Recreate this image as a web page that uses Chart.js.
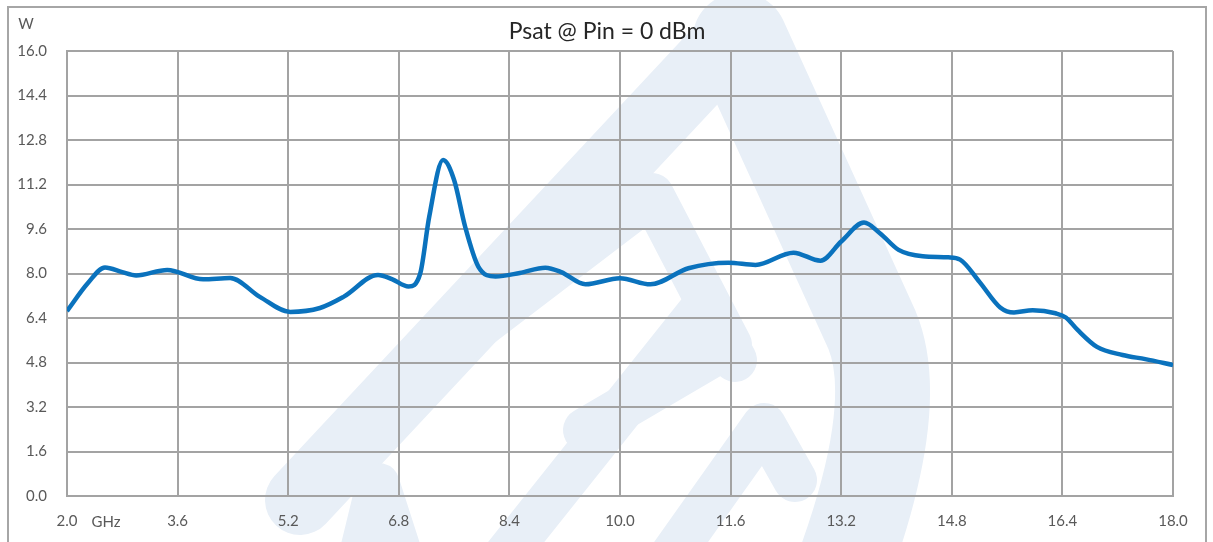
<!DOCTYPE html>
<html>
<head>
<meta charset="utf-8">
<script src="https://cdn.jsdelivr.net/npm/chart.js@4.4.1/dist/chart.umd.min.js"></script>
<style>
  html, body { margin: 0; padding: 0; background: #ffffff; }
  #wrap { position: relative; width: 1213px; height: 542px; }
  canvas { display: block; }
</style>
</head>
<body>
<div id="wrap"><canvas id="c" width="1213" height="542"></canvas></div>
<script>
// ---- data ----
const freqGHz = [2.0, 2.3, 2.55, 2.8, 3.0, 3.45, 3.97, 4.36, 4.79, 5.23, 5.66, 6.0, 6.5, 6.7, 6.94, 7.11, 7.24, 7.44, 7.6, 7.76, 7.95, 8.2, 8.55, 8.92, 9.15, 9.5, 10.0, 10.44, 10.99, 11.57, 11.96, 12.51, 12.9, 13.2, 13.53, 13.76, 14.03, 14.38, 14.75, 14.92, 15.2, 15.5, 15.7, 15.97, 16.3, 16.45, 16.62, 16.9, 17.27, 17.6, 18.0];
const psatW   = [6.65, 7.65, 8.22, 8.05, 7.93, 8.13, 7.79, 7.84, 7.16, 6.62, 6.76, 7.16, 7.95, 7.8, 7.53, 8.0, 10.04, 12.08, 11.36, 9.68, 8.25, 7.89, 8.02, 8.21, 8.05, 7.61, 7.83, 7.61, 8.19, 8.39, 8.31, 8.75, 8.46, 9.15, 9.83, 9.45, 8.85, 8.62, 8.58, 8.5, 7.7, 6.78, 6.6, 6.68, 6.57, 6.42, 5.97, 5.36, 5.07, 4.92, 4.71];
const xTickLabels = ["2.0", "3.6", "5.2", "6.8", "8.4", "10.0", "11.6", "13.2", "14.8", "16.4", "18.0"];
const yTickLabels = ["0.0", "1.6", "3.2", "4.8", "6.4", "8.0", "9.6", "11.2", "12.8", "14.4", "16.0"];
const chartTitle = "Psat @ Pin = 0 dBm";
const yUnit = "W";
const xUnit = "GHz";

const points = freqGHz.map((f, i) => ({ x: f, y: psatW[i] }));

const gridColor = '#a3a3a3';
const labelColor = '#595959';
const fontFam = 'Lato, "Open Sans", "Liberation Sans", sans-serif';

// faint background logo (decoration only)
const watermark = {
  id: 'watermark',
  beforeDraw(chart) {
    const ctx = chart.ctx;
    ctx.save();
    ctx.strokeStyle = '#e8eff7';
    ctx.lineCap = 'round';
    ctx.lineJoin = 'round';
    ctx.lineWidth = 70;
    ctx.beginPath();
    ctx.moveTo(300, 500); ctx.lineTo(725, 45);
    ctx.stroke();
    ctx.lineWidth = 95;
    ctx.beginPath();
    ctx.moveTo(740, 40); ctx.lineTo(872, 330); ctx.quadraticCurveTo(905, 410, 835, 590);
    ctx.stroke();
    ctx.lineWidth = 44;
    ctx.beginPath();
    ctx.moveTo(370, 410); ctx.lineTo(652, 195); ctx.lineTo(730, 345); ctx.lineTo(585, 430);
    ctx.stroke();
    ctx.beginPath();
    ctx.moveTo(470, 600); ctx.lineTo(705, 305); ctx.lineTo(735, 360);
    ctx.stroke();
    ctx.beginPath();
    ctx.moveTo(640, 600); ctx.lineTo(764, 425); ctx.lineTo(795, 480);
    ctx.stroke();
    ctx.beginPath();
    ctx.moveTo(350, 600); ctx.lineTo(378, 485); ctx.lineTo(415, 600);
    ctx.stroke();
    ctx.restore();
  }
};

const extras = {
  id: 'extras',
  afterDraw(chart) {
    const ctx = chart.ctx;
    ctx.save();
    // outer frame
    ctx.strokeStyle = '#a6a6a6';
    ctx.lineWidth = 2;
    ctx.beginPath();
    ctx.moveTo(8, 560); ctx.lineTo(8, 7); ctx.lineTo(1206, 7); ctx.lineTo(1206, 560);
    ctx.stroke();
    // title
    ctx.fillStyle = '#262626';
    ctx.font = '23px ' + fontFam;
    ctx.textBaseline = 'middle';
    ctx.textAlign = 'center';
    ctx.fillText(chartTitle, 607, 32);
    // unit labels
    ctx.fillStyle = labelColor;
    ctx.font = '15px ' + fontFam;
    ctx.fillText(yUnit, 26, 24);
    ctx.fillText(xUnit, 106, 522);
    ctx.restore();
  }
};

new Chart(document.getElementById('c'), {
  type: 'scatter',
  data: {
    datasets: [{
      data: points,
      showLine: true,
      borderColor: '#0a72bd',
      borderWidth: 4.5,
      pointRadius: 0,
      pointHoverRadius: 0,
      cubicInterpolationMode: 'monotone',
      fill: false
    }]
  },
  options: {
    responsive: false,
    animation: false,
    devicePixelRatio: 1,
    layout: { padding: { left: 0, right: 40, top: 51, bottom: 0 } },
    plugins: {
      legend: { display: false },
      tooltip: { enabled: false },
      title: { display: false }
    },
    scales: {
      x: {
        type: 'linear',
        min: 2, max: 18,
        ticks: {
          stepSize: 1.6,
          color: labelColor,
          font: { size: 15, family: fontFam },
          padding: 16,
          maxRotation: 0,
          autoSkip: false,
          callback: (v, i) => xTickLabels[i]
        },
        grid: { color: gridColor, lineWidth: 2, drawTicks: false },
        border: { color: gridColor, width: 2 },
        afterFit: s => { s.height = 46; }
      },
      y: {
        type: 'linear',
        min: 0, max: 16,
        ticks: {
          stepSize: 1.6,
          color: labelColor,
          font: { size: 15, family: fontFam },
          padding: 20,
          autoSkip: false,
          callback: (v, i) => yTickLabels[i]
        },
        grid: { color: gridColor, lineWidth: 2, drawTicks: false },
        border: { color: gridColor, width: 2 },
        afterFit: s => { s.width = 67; }
      }
    }
  },
  plugins: [watermark, extras]
});
</script>
</body>
</html>
